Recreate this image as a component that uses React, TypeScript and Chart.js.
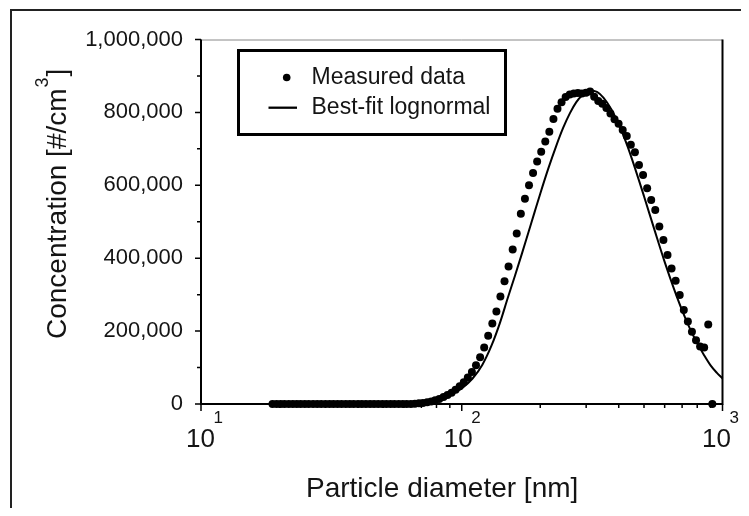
import React, { useEffect, useRef } from 'react';
import { Chart, registerables } from 'chart.js';

Chart.register(...registerables);

// ---- data ----
const measuredDiameters = [
  18.8, 19.5, 20.2, 20.9, 21.7, 22.5, 23.3, 24.1, 25.0, 25.9, 26.9, 27.9, 28.9, 30.0, 31.1, 32.2,
  33.4, 34.6, 35.9, 37.2, 38.5, 40.0, 41.4, 42.9, 44.5, 46.1, 47.8, 49.6, 51.4, 53.3, 55.2, 57.3,
  59.4, 61.5, 63.8, 66.1, 68.5, 71.0, 73.7, 76.4, 79.1, 82.0, 85.1, 88.2, 91.4, 94.7, 98.2, 101.8,
  105.5, 109.4, 113.4, 117.6, 121.9, 126.3, 131.0, 135.8, 140.7, 145.9, 151.2, 156.8, 162.5, 168.5,
  174.7, 181.1, 187.7, 194.6, 201.7, 209.1, 216.7, 224.7, 232.9, 241.4, 250.3, 259.5, 269.0, 278.8,
  289.0, 299.6, 310.6, 322.0, 333.8, 346.0, 358.7, 371.8, 385.4, 399.5, 414.2, 429.4, 445.1, 461.4,
  478.3, 495.8, 514.0, 532.8, 552.3, 572.5, 593.5, 615.3, 637.8, 661.2, 685.4, 710.5, 736.5, 763.5,
  791.5, 820.5, 850.5, 881.7, 914.0,
];
const measuredConcentrations = [
  0, 0, 0, 0, 0, 0, 0, 0, 0, 0, 0, 0, 0, 0, 0, 0,
  0, 0, 0, 0, 0, 0, 0, 0, 0, 0, 0, 0, 0, 0, 0, 0,
  0, 0, 0, 1000, 2000, 3000, 5000, 7000, 10000, 14000, 19000, 25000, 31000, 39000, 49000, 60000,
  73000, 88000, 106000, 128000, 155000, 187000, 221000, 254000, 295000, 337000, 377000, 424000, 468000, 522000,
  563000, 600000, 634000, 665000, 692000, 720000, 747000, 782000, 810000, 828000, 842000, 849000, 852000, 853000,
  852000, 854000, 857000, 843000, 831000, 824000, 812000, 797000, 781000, 769000, 752000, 735000, 711000, 691000,
  656000, 628000, 592000, 560000, 532000, 487000, 450000, 409000, 372000, 338000, 299000, 258000, 226000, 198000,
  175000, 158000, 155000, 218000, 0,
];

const fitDiameters = [
  10, 15, 20, 30, 40, 50, 60, 70, 80, 90, 100, 110, 120, 130, 140, 150, 160, 170, 180, 190, 200,
  215, 230, 245, 260, 275, 290, 312, 330, 350, 375, 400, 425, 450, 500, 550, 600, 650, 700, 750,
  800, 850, 900, 950, 1000,
];
const fitConcentrations = [
  0, 0, 0, 0, 0, 500, 2000, 6000, 13000, 25000, 43000, 70000, 108000, 160000, 222000, 290000,
  352000, 412000, 470000, 525000, 577000, 647000, 707000, 758000, 798000, 828000, 847000, 860000,
  856000, 840000, 808000, 767000, 721000, 671000, 570000, 475000, 390000, 318000, 257000, 207000,
  167000, 134000, 106000, 86000, 70000,
];

const yMajorTicks = [0, 200000, 400000, 600000, 800000, 1000000];
const yMinorTicks = [100000, 300000, 500000, 700000, 900000];
const xDecades = [10, 100, 1000];
const xExponents = ['1', '2', '3'];
const xLabelOffsets = [-15, -18, -20.5];
const xMinorTicks = [20, 30, 40, 50, 60, 70, 80, 90, 200, 300, 400, 500, 600, 700, 800, 900];

const legendLabels = ['Measured data', 'Best-fit lognormal'];
const xTitle = 'Particle diameter [nm]';
const yTitleMain = 'Concentration [#/cm';
const yTitleSup = '3';
const yTitleEnd = ']';

const FONT = '"Liberation Sans", Arial, sans-serif';
const INK = '#141414';

const decorPlugin = {
  id: 'decor',
  beforeDraw(chart: any) {
    const ctx = chart.ctx;
    ctx.save();
    ctx.fillStyle = '#ffffff';
    ctx.fillRect(0, 0, chart.width, chart.height);
    ctx.strokeStyle = '#222';
    ctx.lineWidth = 2;
    ctx.beginPath();
    ctx.moveTo(11, chart.height);
    ctx.lineTo(11, 10);
    ctx.lineTo(chart.width, 10);
    ctx.stroke();
    ctx.restore();
  },
  beforeDatasetsDraw(chart: any) {
    const { ctx, chartArea } = chart;
    const { left, right, top, bottom } = chartArea;
    const x = chart.scales.x;
    const y = chart.scales.y;
    ctx.save();
    // thin top border
    ctx.strokeStyle = '#888';
    ctx.lineWidth = 1;
    ctx.beginPath();
    ctx.moveTo(left, top + 0.5);
    ctx.lineTo(right, top + 0.5);
    ctx.stroke();
    // axes
    ctx.strokeStyle = '#000';
    ctx.lineWidth = 2;
    ctx.beginPath();
    ctx.moveTo(left, top);
    ctx.lineTo(left, bottom + 1);
    ctx.moveTo(left - 1, bottom);
    ctx.lineTo(right + 1, bottom);
    ctx.moveTo(right, bottom + 1);
    ctx.lineTo(right, top);
    ctx.stroke();
    // ticks
    ctx.lineWidth = 1.5;
    ctx.beginPath();
    for (const v of yMajorTicks) {
      const py = y.getPixelForValue(v);
      ctx.moveTo(left, py);
      ctx.lineTo(left - 6, py);
    }
    for (const v of yMinorTicks) {
      const py = y.getPixelForValue(v);
      ctx.moveTo(left, py);
      ctx.lineTo(left - 4, py);
    }
    for (const v of xDecades) {
      const px = x.getPixelForValue(v);
      ctx.moveTo(px, bottom);
      ctx.lineTo(px, bottom + 7);
    }
    for (const v of xMinorTicks) {
      const px = x.getPixelForValue(v);
      ctx.moveTo(px, bottom);
      ctx.lineTo(px, bottom + 4);
    }
    ctx.stroke();
    ctx.restore();
  },
  afterDraw(chart: any) {
    const ctx = chart.ctx;
    const x = chart.scales.x;
    ctx.save();
    ctx.fillStyle = INK;
    ctx.textAlign = 'left';
    ctx.textBaseline = 'alphabetic';

    // x tick labels 10^n
    xDecades.forEach((v, i) => {
      const px = x.getPixelForValue(v);
      ctx.font = `26px ${FONT}`;
      const base = '10';
      const w = ctx.measureText(base).width;
      const lx = px + xLabelOffsets[i];
      ctx.fillText(base, lx, 447);
      ctx.font = `17px ${FONT}`;
      ctx.fillText(xExponents[i], lx + w - 1.5, 422.5);
    });

    // x title
    ctx.font = `28px ${FONT}`;
    ctx.fillText(xTitle, 306, 497);

    // y title (rotated)
    ctx.save();
    ctx.translate(66, 339);
    ctx.rotate(-Math.PI / 2);
    ctx.font = `28px ${FONT}`;
    ctx.fillText(yTitleMain, 0, 0);
    const wm = ctx.measureText(yTitleMain).width;
    ctx.font = `18px ${FONT}`;
    ctx.fillText(yTitleSup, wm + 1, -18);
    const ws = ctx.measureText(yTitleSup).width;
    ctx.font = `28px ${FONT}`;
    ctx.fillText(yTitleEnd, wm + ws + 2, 0);
    ctx.restore();

    // legend box
    ctx.strokeStyle = '#000';
    ctx.lineWidth = 3;
    ctx.strokeRect(238.5, 50.5, 267, 84);
    ctx.fillStyle = '#000';
    ctx.beginPath();
    ctx.arc(286.7, 77.5, 3.8, 0, Math.PI * 2);
    ctx.fill();
    ctx.lineWidth = 2.3;
    ctx.beginPath();
    ctx.moveTo(268.5, 107.7);
    ctx.lineTo(297, 107.7);
    ctx.stroke();
    ctx.fillStyle = INK;
    ctx.font = `23px ${FONT}`;
    ctx.textBaseline = 'middle';
    ctx.fillText(legendLabels[0], 311.5, 78);
    ctx.fillText(legendLabels[1], 311.5, 108);
    ctx.restore();
  },
};

export default function App() {
  const canvasRef = useRef<HTMLCanvasElement | null>(null);

  useEffect(() => {
    const canvas = canvasRef.current;
    if (!canvas) return;
    const measured = measuredDiameters.map((d, i) => ({ x: d, y: measuredConcentrations[i] }));
    const fit = fitDiameters.map((d, i) => ({ x: d, y: fitConcentrations[i] }));
    const chart = new Chart(canvas, {
      type: 'scatter',
      data: {
        datasets: [
          {
            label: legendLabels[1],
            data: fit,
            showLine: true,
            borderColor: '#000',
            borderWidth: 2,
            pointRadius: 0,
            cubicInterpolationMode: 'monotone',
            clip: false,
            order: 2,
          } as any,
          {
            label: legendLabels[0],
            data: measured,
            showLine: false,
            pointRadius: 4,
            pointStyle: 'circle',
            backgroundColor: '#000',
            borderWidth: 0,
            clip: false,
            order: 1,
          } as any,
        ],
      },
      options: {
        responsive: false,
        animation: false,
        devicePixelRatio: 1,
        layout: { padding: { left: 0, right: 26.5, top: 39.5, bottom: 112 } },
        plugins: { legend: { display: false }, tooltip: { enabled: false }, title: { display: false } },
        events: [],
        scales: {
          x: {
            type: 'logarithmic',
            min: 10,
            max: 1000,
            grid: { display: false },
            border: { display: false },
            ticks: { display: false },
            afterFit: (s: any) => { s.height = 0; },
          },
          y: {
            type: 'linear',
            min: 0,
            max: 1000000,
            grid: { display: false, drawTicks: false },
            border: { display: false },
            ticks: {
              stepSize: 200000,
              padding: 18,
              color: INK,
              font: { family: FONT, size: 22 },
              callback: (v: any) => Number(v).toLocaleString('en-US'),
            },
            afterFit: (s: any) => { s.width = 201; },
          },
        },
      } as any,
      plugins: [decorPlugin],
    });
    return () => chart.destroy();
  }, []);

  return (
    <div style={{ position: 'relative', width: 749, height: 516, margin: -8, overflow: 'hidden', background: '#fff' }}>
      <canvas
        ref={canvasRef}
        width={749}
        height={516}
        style={{ position: 'absolute', left: 0, top: 0, width: 749, height: 516 }}
      />
    </div>
  );
}
